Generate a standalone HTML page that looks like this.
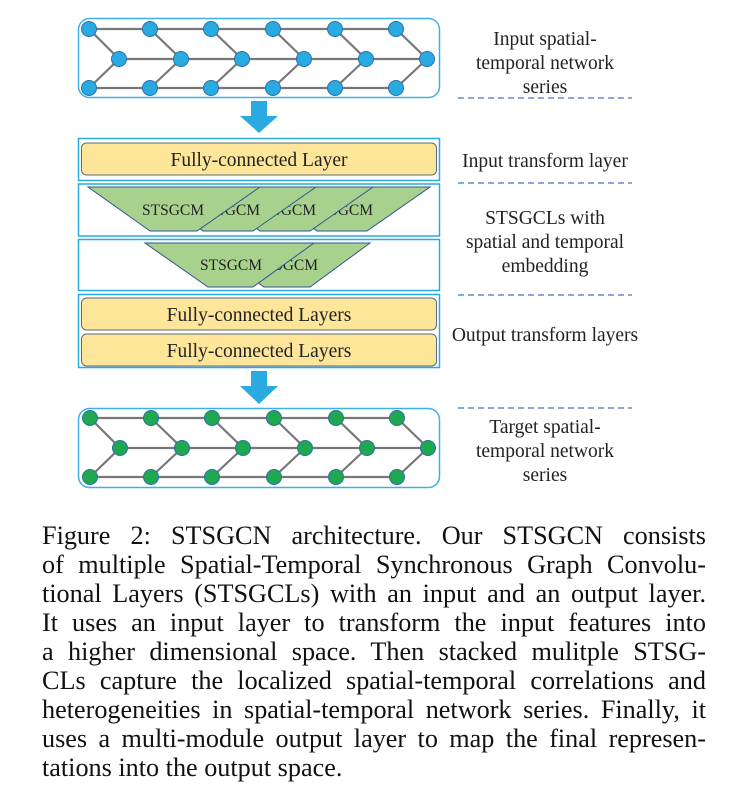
<!DOCTYPE html>
<html><head><meta charset="utf-8"><style>
body{margin:0;background:#fff;width:742px;height:791px;overflow:hidden;position:relative}
svg{position:absolute;left:0;top:0}
.cap{position:absolute;left:42px;top:521px;width:664px;font-family:"Liberation Serif",serif;font-size:26.2px;line-height:29px;color:#111}
.cap div{text-align:justify;text-align-last:justify;white-space:nowrap}
.cap div.l{text-align-last:left}
</style></head><body>
<svg width="742" height="520" xmlns="http://www.w3.org/2000/svg" font-family="Liberation Serif, serif">
<defs>
<g id="edges" stroke="#777" stroke-width="2.2" fill="none">
<line x1="89" y1="0" x2="396" y2="0"/><line x1="119" y1="30" x2="427" y2="30"/><line x1="89" y1="59" x2="396" y2="59"/>
<polyline points="89,0 119,30 89,59"/><polyline points="150,0 181,30 150,59"/><polyline points="211,0 242,30 211,59"/>
<polyline points="273,0 304,30 273,59"/><polyline points="335,0 366,30 335,59"/><polyline points="396,0 427,30 396,59"/>
</g>
<g id="nodes">
<circle cx="89" cy="0" r="7.5"/><circle cx="150" cy="0" r="7.5"/><circle cx="211" cy="0" r="7.5"/><circle cx="273" cy="0" r="7.5"/><circle cx="335" cy="0" r="7.5"/><circle cx="396" cy="0" r="7.5"/>
<circle cx="119" cy="30" r="7.5"/><circle cx="181" cy="30" r="7.5"/><circle cx="242" cy="30" r="7.5"/><circle cx="304" cy="30" r="7.5"/><circle cx="366" cy="30" r="7.5"/><circle cx="427" cy="30" r="7.5"/>
<circle cx="89" cy="59" r="7.5"/><circle cx="150" cy="59" r="7.5"/><circle cx="211" cy="59" r="7.5"/><circle cx="273" cy="59" r="7.5"/><circle cx="335" cy="59" r="7.5"/><circle cx="396" cy="59" r="7.5"/>
</g>
</defs>
<rect x="78.5" y="18.5" width="361" height="79" rx="11" fill="none" stroke="#3fb0e6" stroke-width="1.5"/>
<g transform="translate(0,29)"><use href="#edges"/><g fill="#29abe2" stroke="#2a6fa8" stroke-width="1"><use href="#nodes"/></g></g>
<polygon points="251,101 267,101 267,116 278,116 259,133 240,116 251,116" fill="#29abe2"/>
<rect x="78.5" y="138.5" width="361" height="42" fill="none" stroke="#29abe2" stroke-width="1.5"/>
<rect x="81.5" y="143" width="355" height="32" rx="5" fill="#fde599" stroke="#5a6a80" stroke-width="1"/>
<text x="259" y="166" font-size="19.5" text-anchor="middle" fill="#222">Fully-connected Layer</text>
<rect x="78.5" y="184" width="361" height="52" fill="none" stroke="#29abe2" stroke-width="1.5"/>
<rect x="78.5" y="239.5" width="361" height="51" fill="none" stroke="#29abe2" stroke-width="1.5"/>
<g fill="#a9d18e" stroke="#2f5597" stroke-width="1" font-size="15.5">
<polygon points="256,187 430,187 367,231 317,231"/><text x="342" y="215" text-anchor="middle" fill="#222" stroke="none">STSGCM</text>
<polygon points="200,187 373,187 310,231 260,231"/><text x="285" y="215" text-anchor="middle" fill="#222" stroke="none">STSGCM</text>
<polygon points="144,187 316,187 253,231 203,231"/><text x="229" y="215" text-anchor="middle" fill="#222" stroke="none">STSGCM</text>
<polygon points="88,187 260,187 197,231 150,231"/><text x="173" y="215" text-anchor="middle" fill="#222" stroke="none">STSGCM</text>
<polygon points="201,243 370,243 310,287 264,287"/><text x="287" y="270" text-anchor="middle" fill="#222" stroke="none">STSGCM</text>
<polygon points="145,243 314,243 253,287 208,287"/><text x="231" y="270" text-anchor="middle" fill="#222" stroke="none">STSGCM</text>
</g>
<rect x="78.5" y="294.5" width="361" height="73" fill="none" stroke="#29abe2" stroke-width="1.5"/>
<rect x="81.5" y="298" width="355" height="32" rx="5" fill="#fde599" stroke="#5a6a80" stroke-width="1"/>
<rect x="81.5" y="334" width="355" height="32" rx="5" fill="#fde599" stroke="#5a6a80" stroke-width="1"/>
<text x="259" y="321" font-size="19.5" text-anchor="middle" fill="#222">Fully-connected Layers</text>
<text x="259" y="357" font-size="19.5" text-anchor="middle" fill="#222">Fully-connected Layers</text>
<polygon points="251,371 267,371 267,386 278,386 259,404 240,386 251,386" fill="#29abe2"/>
<rect x="78.5" y="408.5" width="361" height="79" rx="11" fill="none" stroke="#3fb0e6" stroke-width="1.5"/>
<g transform="translate(1,418)"><use href="#edges"/><g fill="#1fa84f" stroke="#2a6fa8" stroke-width="1"><use href="#nodes"/></g></g>
<g font-size="19.5" text-anchor="middle" fill="#222">
<text x="545" y="45">Input spatial-</text><text x="545" y="69">temporal network</text><text x="545" y="93">series</text>
<text x="545" y="167">Input transform layer</text>
<text x="545" y="224">STSGCLs with</text><text x="545" y="248">spatial and temporal</text><text x="545" y="272">embedding</text>
<text x="545" y="341">Output transform layers</text>
<text x="545" y="433">Target spatial-</text><text x="545" y="457">temporal network</text><text x="545" y="481">series</text>
</g>
<g stroke="#4472c4" stroke-width="1.3" stroke-dasharray="6,4">
<line x1="458" y1="98" x2="632" y2="98"/><line x1="458" y1="183" x2="632" y2="183"/>
<line x1="458" y1="295" x2="632" y2="295"/><line x1="458" y1="408" x2="632" y2="408"/>
</g>
</svg>
<div class="cap">
<div>Figure 2: STSGCN architecture. Our STSGCN consists</div>
<div>of multiple Spatial-Temporal Synchronous Graph Convolu-</div>
<div>tional Layers (STSGCLs) with an input and an output layer.</div>
<div>It uses an input layer to transform the input features into</div>
<div>a higher dimensional space. Then stacked mulitple STSG-</div>
<div>CLs capture the localized spatial-temporal correlations and</div>
<div>heterogeneities in spatial-temporal network series. Finally, it</div>
<div>uses a multi-module output layer to map the final represen-</div>
<div class="l">tations into the output space.</div>
</div>
</body></html>
